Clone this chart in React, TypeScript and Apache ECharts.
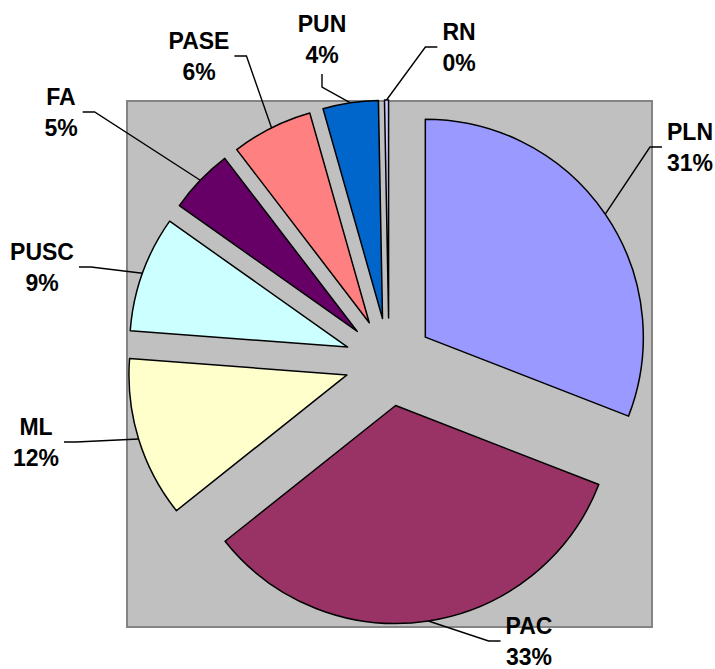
import React, { useEffect, useRef } from 'react';
import * as echarts from 'echarts';

const categories = ['PLN', 'PAC', 'ML', 'PUSC', 'FA', 'PASE', 'PUN', 'RN'];
const values = [30.9, 33.4, 11.9, 8.6, 4.8, 6.0, 4.1, 0.3];
const colors = ['#9999FF', '#993366', '#FFFFCC', '#CCFFFF', '#660066', '#FF8080', '#0066CC', '#CCCCFF'];

// label layout: centre of each label and the side of the label the leader line joins
const labelSpots: [number, number, 'left' | 'right' | 'bottom'][] = [
  [690, 147, 'left'],
  [529, 641, 'left'],
  [36, 442, 'right'],
  [42, 267, 'right'],
  [61, 112, 'right'],
  [199, 56, 'right'],
  [322, 39, 'bottom'],
  [459, 47, 'left'],
];

const CX = 389;
const CY = 362;
const R = 218;
const EXPLODE = 44;
const FONT = '"Liberation Sans", Arial, Helvetica, sans-serif';

export default function App() {
  const ref = useRef<HTMLDivElement>(null);
  useEffect(() => {
    document.body.style.margin = '0';
    const chart = echarts.init(ref.current as HTMLDivElement, null, { renderer: 'svg' });
    const total = values.reduce((a, b) => a + b, 0);
    let cum = 0;
    const series = values.map((v, i) => {
      const mid = ((cum + v / 2) / total) * 2 * Math.PI;
      cum += v;
      const cx = CX + EXPLODE * Math.sin(mid);
      const cy = CY - EXPLODE * Math.cos(mid);
      const anchor = [cx + R * Math.sin(mid), cy - R * Math.cos(mid)];
      return {
        type: 'pie',
        name: categories[i],
        center: [cx, cy],
        radius: R,
        startAngle: 90,
        clockwise: true,
        avoidLabelOverlap: false,
        percentPrecision: 0,
        silent: true,
        emphasis: { disabled: true },
        label: {
          position: 'outside',
          formatter: '{b}\n{d}%',
          color: '#000',
          fontFamily: FONT,
          fontWeight: 'bold',
          fontSize: 23,
          lineHeight: 31,
        },
        labelLine: {
          show: true,
          length: 20,
          length2: 12,
          lineStyle: { color: '#000', width: 1.4 },
        },
        labelLayout: (params: any) => {
          if (params.dataIndex !== i) return {};
          const [x, y, side] = labelSpots[i];
          const w = params.labelRect.width;
          const h = params.labelRect.height;
          const gap = 5;
          let end: number[];
          let bend: number[];
          if (side === 'left') {
            end = [x - w / 2 - gap, y];
            bend = [end[0] - 12, y];
          } else if (side === 'right') {
            end = [x + w / 2 + gap, y];
            bend = [end[0] + 12, y];
          } else {
            end = [x, y + h / 2 + 4];
            bend = [x, end[1] + 13];
          }
          return {
            x,
            y,
            align: 'center',
            verticalAlign: 'middle',
            labelLinePoints: [anchor, bend, end],
          };
        },
        data: categories.map((name, j) => ({
          name,
          value: values[j],
          itemStyle:
            j === i
              ? { color: colors[j], borderColor: '#000', borderWidth: 1.5 }
              : { color: 'rgba(0,0,0,0)', borderWidth: 0 },
          label: { show: j === i },
          labelLine: { show: j === i },
        })),
      };
    });

    chart.setOption({
      animation: false,
      backgroundColor: '#fff',
      tooltip: { show: false },
      graphic: [
        {
          type: 'rect',
          z: -10,
          silent: true,
          shape: { x: 127, y: 101, width: 525, height: 526 },
          style: { fill: '#C0C0C0', stroke: '#848484', lineWidth: 2 },
        },
      ],
      series,
    } as any);
    return () => chart.dispose();
  }, []);
  return <div ref={ref} style={{ width: 715, height: 669 }} />;
}
